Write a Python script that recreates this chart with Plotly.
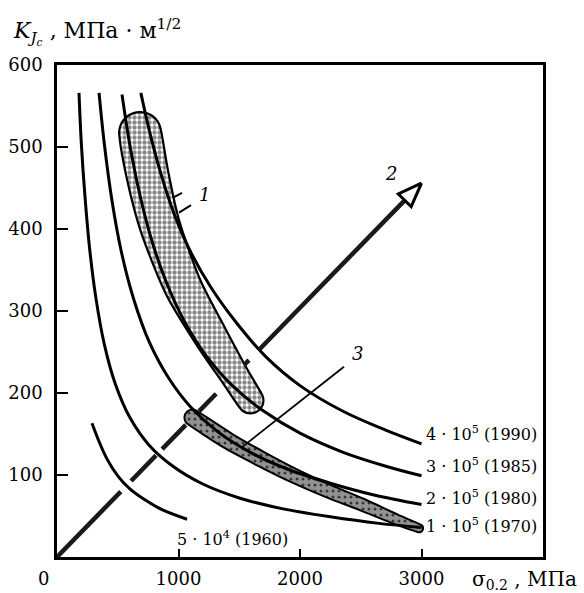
import numpy as np
import plotly.graph_objects as go

# K_Jc (MPa·m^1/2) versus yield strength sigma_0.2 (MPa), iso-product curves
sigma_1960 = [288, 340, 410, 500, 600, 720, 860, 1070]
kjc_1960 = [163, 143, 120, 99, 83, 70, 58, 46]

sigma_1970 = [181, 200, 230, 270, 320, 390, 480, 600, 760, 960, 1200, 1500, 1850, 2250, 2650, 3000]
kjc_1970 = [566, 505, 440, 374, 316, 259, 211, 170, 136, 110, 89, 72, 59, 49, 41, 36]

sigma_1980 = [346, 390, 450, 530, 630, 760, 920, 1100, 1330, 1600, 1900, 2250, 2600, 3000]
kjc_1980 = [566, 503, 437, 372, 315, 262, 218, 183, 152, 127, 107, 90, 76, 64]

sigma_1985 = [535, 600, 680, 780, 900, 1050, 1230, 1450, 1700, 2000, 2350, 2700, 3000]
kjc_1985 = [564, 502, 443, 386, 335, 287, 245, 208, 178, 151, 128, 111, 99]

sigma_1990 = [690, 760, 850, 960, 1100, 1270, 1480, 1720, 2000, 2350, 2700, 3000]
kjc_1990 = [566, 520, 470, 420, 372, 328, 285, 244, 209, 178, 155, 138]

curve_labels = ["5 · 10<sup>4</sup> (1960)", "1 · 10<sup>5</sup> (1970)", "2 · 10<sup>5</sup> (1980)",
                "3 · 10<sup>5</sup> (1985)", "4 · 10<sup>5</sup> (1990)"]
label_sigma = [975, 3020, 3020, 3020, 3020]
label_kjc = [23, 39, 73, 112, 151]

# Region 1: centre line and half-width (px) of the stippled band
band1_sigma = [684, 742, 841, 1039, 1270, 1468, 1592]
band1_kjc = [517, 468, 407, 329, 268, 220, 191]
band1_halfwidth = [21, 21, 20, 18.5, 16.5, 14, 13]

# Region 3: centre line and half-width (px) of the chain-hatched band
band3_sigma = [1115, 1416, 1687, 1967, 2239, 2510, 2790, 2980]
band3_kjc = [170, 141, 119, 98, 80, 64, 46, 35]
band3_halfwidth = [8, 8, 7.5, 7, 6.5, 6, 5, 4]

# Trend 2: straight arrow from the origin, drawn in pieces between the curves
arrow_start = (0, 0)
arrow_tip = (3000, 456)
arrow_pieces_sigma = [(0, 525), (610, 815), (865, 1060), (1170, 1310), (1540, 1580), (1665, 2990)]

# Leader lines for the numbered markers
leader1_sigma = [[963, 1029], [1004, 1103]]
leader1_kjc = [[439, 444], [420, 429]]
leader3_sigma = [2362, 1523]
leader3_kjc = [232, 134]
marker_text = ["1", "2", "3"]
marker_sigma = [1215, 2745, 2470]
marker_kjc = [442, 468, 248]

x_ticks = [1000, 2000, 3000]
y_ticks = [100, 200, 300, 400, 500, 600]

W, H = 584, 593
ML, MR, MT, MB = 57, 41, 65, 36
XR, YR = (0, 4000), (0, 600)
px_x = (W - ML - MR) / (XR[1] - XR[0])
px_y = (H - MT - MB) / (YR[1] - YR[0])

SERIF = "DejaVu Serif"


def band_outline(cs, ck, hw, ncap=12):
    """Closed outline of a rounded band around a centre line (half-width in pixels)."""
    X = np.asarray(cs, float) * px_x
    Y = np.asarray(ck, float) * px_y
    hw = np.asarray(hw, float)
    tx, ty = np.gradient(X), np.gradient(Y)
    n = np.hypot(tx, ty)
    tx, ty = tx / n, ty / n
    nx, ny = -ty, tx
    left = list(zip(X + nx * hw, Y + ny * hw))
    right = list(zip(X - nx * hw, Y - ny * hw))
    a_end = np.arctan2(ny[-1], nx[-1])
    cap_end = [(X[-1] + hw[-1] * np.cos(a), Y[-1] + hw[-1] * np.sin(a))
               for a in np.linspace(a_end, a_end - np.pi, ncap)[1:-1]]
    a_start = np.arctan2(-ny[0], -nx[0])
    cap_start = [(X[0] + hw[0] * np.cos(a), Y[0] + hw[0] * np.sin(a))
                 for a in np.linspace(a_start, a_start - np.pi, ncap)[1:-1]]
    pts = left + cap_end + right[::-1] + cap_start + [left[0]]
    return [p[0] / px_x for p in pts], [p[1] / px_y for p in pts]


fig = go.Figure()

# stippled band 1
b1x, b1y = band_outline(band1_sigma, band1_kjc, band1_halfwidth)
fig.add_trace(go.Scatter(
    x=b1x, y=b1y, mode="lines", fill="toself",
    line=dict(color="black", width=2.2, shape="spline", smoothing=0.8),
    fillcolor="rgba(0,0,0,0)",
    fillpattern=dict(shape=".", size=5, solidity=0.6, fgcolor="#111", bgcolor="white"),
    hoverinfo="skip", showlegend=False))

# chain-hatched band 3: white beads on a dark ground
b3x, b3y = band_outline(band3_sigma, band3_kjc, band3_halfwidth)
fig.add_trace(go.Scatter(
    x=b3x, y=b3y, mode="lines", fill="toself",
    line=dict(color="black", width=2, shape="spline", smoothing=0.8),
    fillcolor="rgba(0,0,0,0)",
    fillpattern=dict(shape=".", size=6, solidity=0.8, fgcolor="white", bgcolor="#222"),
    hoverinfo="skip", showlegend=False))

# iso-product curves
for xs, ys in [(sigma_1960, kjc_1960), (sigma_1970, kjc_1970), (sigma_1980, kjc_1980),
               (sigma_1985, kjc_1985), (sigma_1990, kjc_1990)]:
    fig.add_trace(go.Scatter(x=xs, y=ys, mode="lines",
                             line=dict(color="black", width=3, shape="spline", smoothing=1.0),
                             hoverinfo="skip", showlegend=False))

# arrow 2: pieces along the straight line
slope = (arrow_tip[1] - arrow_start[1]) / (arrow_tip[0] - arrow_start[0])
ax_pts, ay_pts = [], []
for s0, s1 in arrow_pieces_sigma:
    ax_pts += [s0, s1, None]
    ay_pts += [s0 * slope, s1 * slope, None]
fig.add_trace(go.Scatter(x=ax_pts, y=ay_pts, mode="lines",
                         line=dict(color="#1a1a1a", width=4.5),
                         hoverinfo="skip", showlegend=False))

# open arrowhead at the tip
tx, ty = arrow_tip[0] * px_x, arrow_tip[1] * px_y
ang = np.arctan2(ty, tx)
L, hwid = 24, 9
bx, by = tx - L * np.cos(ang), ty - L * np.sin(ang)
nx, ny = -np.sin(ang), np.cos(ang)
head_px = [(tx, ty), (bx + hwid * nx, by + hwid * ny), (bx - hwid * nx, by - hwid * ny), (tx, ty)]
fig.add_trace(go.Scatter(x=[p[0] / px_x for p in head_px], y=[p[1] / px_y for p in head_px],
                         mode="lines", fill="toself", fillcolor="white",
                         line=dict(color="black", width=3),
                         hoverinfo="skip", showlegend=False))

# leader lines
for xs, ys in zip(leader1_sigma, leader1_kjc):
    fig.add_trace(go.Scatter(x=xs, y=ys, mode="lines", line=dict(color="black", width=2),
                             hoverinfo="skip", showlegend=False))
fig.add_trace(go.Scatter(x=leader3_sigma, y=leader3_kjc, mode="lines",
                         line=dict(color="black", width=1.8),
                         hoverinfo="skip", showlegend=False))

# curve labels
for t, sx, sy in zip(curve_labels, label_sigma, label_kjc):
    fig.add_annotation(x=sx, y=sy, text=t, showarrow=False, xanchor="left", yanchor="middle",
                       font=dict(family=SERIF, size=16, color="black"))

for t, sx, sy in zip(marker_text, marker_sigma, marker_kjc):
    fig.add_annotation(x=sx, y=sy, text="<i>" + t + "</i>", showarrow=False,
                       font=dict(family=SERIF, size=18, color="black"))

# axis titles and shared origin label
fig.add_annotation(xref="paper", yref="paper", x=0, y=1, xanchor="left", yanchor="middle",
                   xshift=-46, yshift=33, showarrow=False,
                   text="<i>K</i><sub><i>J<sub>c</sub></i></sub> , МПа · м<sup>1/2</sup>",
                   font=dict(family=SERIF, size=22, color="black"))
fig.add_annotation(xref="paper", yref="paper", x=1, y=0, xanchor="right", yanchor="middle",
                   xshift=36, yshift=-23, showarrow=False,
                   text="σ<sub>0.2</sub> , МПа",
                   font=dict(family=SERIF, size=20, color="black"))
fig.add_annotation(xref="paper", yref="paper", x=0, y=0, xanchor="center", yanchor="middle",
                   xshift=-14, yshift=-21, showarrow=False, text="0",
                   font=dict(family=SERIF, size=18, color="black"))

fig.update_layout(
    width=W, height=H, margin=dict(l=ML, r=MR, t=MT, b=MB, autoexpand=False),
    paper_bgcolor="white", plot_bgcolor="white",
    xaxis=dict(range=list(XR), tickvals=x_ticks, ticks="inside", ticklen=8, tickwidth=2,
               tickcolor="black", showline=True, mirror=True, linecolor="black", linewidth=2.5,
               showgrid=False, zeroline=False, ticklabelstandoff=4, automargin=False,
               tickfont=dict(family=SERIF, size=18, color="black")),
    yaxis=dict(range=list(YR), tickvals=y_ticks, ticks="inside", ticklen=11, tickwidth=2,
               tickcolor="black", showline=True, mirror=True, linecolor="black", linewidth=2.5,
               showgrid=False, zeroline=False, ticklabelstandoff=8, automargin=False,
               tickfont=dict(family=SERIF, size=18, color="black")),
)

fig.write_html("out.html")
